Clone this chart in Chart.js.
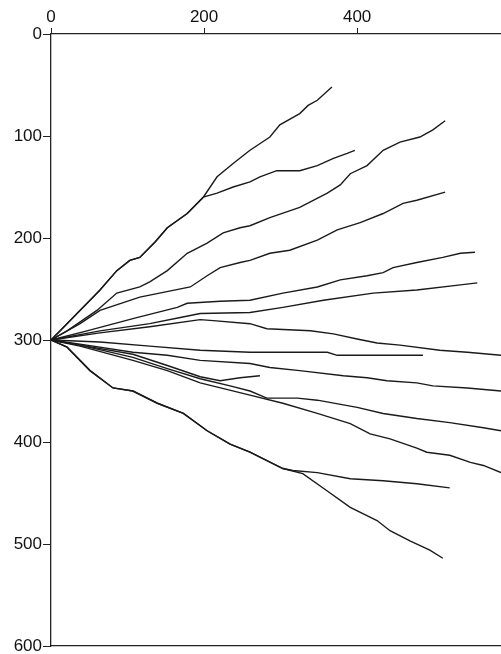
<!DOCTYPE html>
<html>
<head>
<meta charset="utf-8">
<script src="https://cdn.jsdelivr.net/npm/chart.js@4/dist/chart.umd.min.js"></script>
<style>
  html, body { margin: 0; padding: 0; background: #fff; }
  #walks { display: block; }
</style>
</head>
<body>
<canvas id="walks" width="501" height="654"></canvas>
<script>
// tick positions for both axes
var xTicks = [0, 200, 400];
var yTicks = [0, 100, 200, 300, 400, 500, 600];

// shared beginnings, paths branch off these
var trunkUpper = [[0,300],[12,291],[34,274],[51,261],[64,251],[86,232],[103,222],[116,219],[136,204],[152,190],[178,176],[199,160]];
var trunkLower = [[0,300],[21,307],[51,330],[81,347],[107,350],[139,362],[173,372],[204,389],[234,402],[260,410],[303,426]];

// each path as [x, y] pairs
var path1 = trunkUpper.concat([[217,140],[238,127],[260,114],[286,101],[299,89],[325,78],[336,70],[348,65],[367,52]]);
var path2 = trunkUpper.concat([[217,156],[238,150],[260,145],[273,140],[295,134],[325,134],[348,129],[369,122],[387,117],[397,114]]);
var path3 = [[0,300],[21,291],[60,271],[86,254],[116,248],[129,243],[152,232],[178,215],[204,205],[225,195],[247,190],[260,188],[286,180],[325,170],[361,156],[378,148],[391,137],[413,129],[434,114],[456,106],[482,101],[499,94],[515,85]];
var path4 = [[0,300],[38,284],[64,271],[116,258],[182,248],[204,237],[221,229],[247,224],[260,222],[286,215],[312,212],[348,202],[374,192],[404,185],[434,176],[460,166],[478,163],[515,155]];
var path5 = [[0,300],[47,291],[112,278],[165,268],[178,264],[221,262],[260,261],[303,254],[348,248],[378,241],[413,237],[434,234],[447,229],[478,224],[512,219],[535,215],[554,214]];
var path6 = [[0,300],[64,291],[129,284],[169,278],[195,274],[260,273],[303,268],[356,261],[421,254],[478,251],[535,246],[557,244]];
var path7 = [[0,300],[64,293],[129,287],[195,280],[212,281],[260,284],[282,289],[339,291],[369,294],[400,299],[426,303],[456,305],[508,310],[544,312],[588,315]];
var path8 = [[0,300],[64,302],[129,306],[195,310],[260,312],[361,312],[374,315],[486,315]];
var path9 = [[0,300],[38,304],[107,312],[152,315],[195,320],[260,323],[286,327],[325,330],[382,335],[413,337],[439,340],[478,342],[499,345],[544,347],[588,350]];
var path10 = [[0,300],[38,305],[107,314],[152,325],[195,336],[221,340],[247,337],[273,335]];
var path11 = [[0,300],[38,305],[107,317],[152,328],[195,338],[234,345],[260,350],[282,357],[322,357],[348,359],[400,366],[434,372],[478,377],[521,381],[565,386],[588,389]];
var path12 = [[0,300],[38,306],[107,320],[152,330],[195,342],[260,354],[303,362],[348,372],[391,382],[417,392],[443,397],[478,406],[491,410],[521,413],[548,420],[565,423],[588,430]];
var path13 = trunkLower.concat([[316,428],[348,430],[391,436],[434,438],[478,441],[521,445]]);
var path14 = trunkLower.concat([[329,431],[361,448],[391,464],[426,477],[443,487],[469,497],[495,506],[512,514]]);

var paths = [path1, path2, path3, path4, path5, path6, path7, path8, path9, path10, path11, path12, path13, path14];

var lineColor = "#1a1a1a";
var tickFont = { family: "'Liberation Sans', Arial, sans-serif", size: 17 };

var datasets = paths.map(function (p) {
    return {
        data: p.map(function (pt) { return { x: pt[0], y: pt[1] }; }),
        borderColor: lineColor,
        borderWidth: 1.4,
        pointRadius: 0,
        fill: false,
        tension: 0
    };
});

new Chart(document.getElementById("walks"), {
    type: "line",
    data: { datasets: datasets },
    options: {
        responsive: false,
        animation: false,
        layout: { padding: 0 },
        plugins: { legend: { display: false }, tooltip: { enabled: false } },
        scales: {
            x: {
                type: "linear",
                position: "top",
                min: 0,
                max: 588,
                afterBuildTicks: function (scale) {
                    scale.ticks = xTicks.map(function (v) { return { value: v }; });
                },
                afterFit: function (scale) { scale.height = 34; },
                ticks: { color: "#111", font: tickFont, padding: 0, maxRotation: 0 },
                grid: { drawOnChartArea: false, tickLength: 6, color: "#222", lineWidth: 1 },
                border: { display: true, color: "#222", width: 1.3 }
            },
            xb: {
                type: "linear",
                position: "bottom",
                min: 0,
                max: 588,
                afterFit: function (scale) { scale.height = 8; },
                ticks: { display: false },
                grid: { display: false },
                border: { display: true, color: "#222", width: 1.3 }
            },
            y: {
                type: "linear",
                reverse: true,
                min: 0,
                max: 600,
                afterBuildTicks: function (scale) {
                    scale.ticks = yTicks.map(function (v) { return { value: v }; });
                },
                afterFit: function (scale) {
                    scale.width = 51;
                    // let the end labels hang over the plot edges
                    scale.paddingTop = 0;
                    scale.paddingBottom = 0;
                },
                ticks: { color: "#111", font: tickFont, padding: 1 },
                grid: { drawOnChartArea: false, tickLength: 8, color: "#222", lineWidth: 1 },
                border: { display: true, color: "#222", width: 1.3 }
            }
        }
    }
});
</script>
</body>
</html>
